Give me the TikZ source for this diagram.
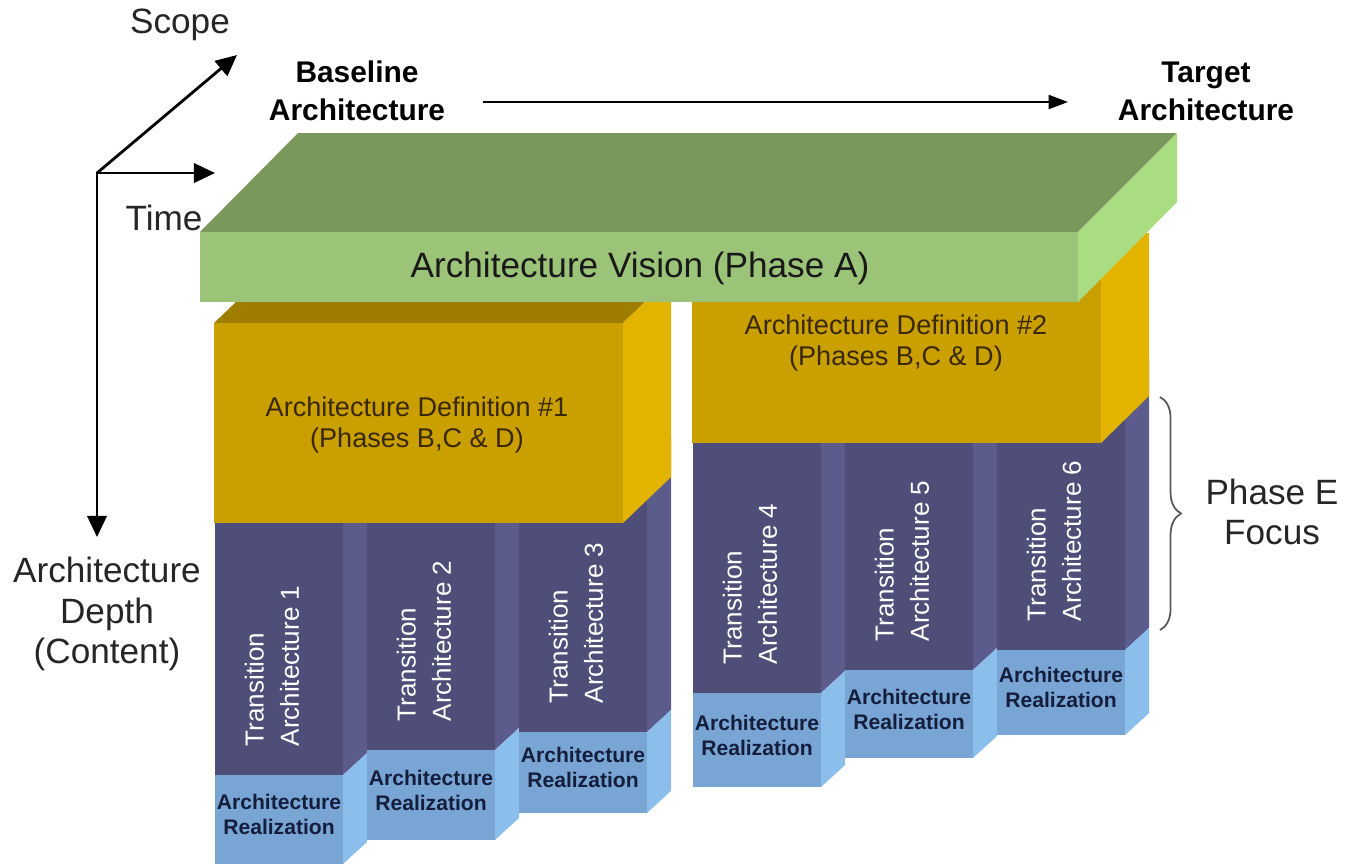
\documentclass[tikz,border=0pt]{standalone}
\usepackage{fontspec}
\setmainfont{Liberation Sans}
\usetikzlibrary{arrows.meta,decorations.pathreplacing}

\definecolor{visionTop}{HTML}{7A985C}
\definecolor{visionFront}{HTML}{9BC478}
\definecolor{visionSide}{HTML}{AADC82}
\definecolor{defTop}{HTML}{9E7D00}
\definecolor{defFront}{HTML}{C9A000}
\definecolor{defSide}{HTML}{E2B400}
\definecolor{transFront}{HTML}{4E4E78}
\definecolor{transSide}{HTML}{5C5C8C}
\definecolor{realFront}{HTML}{78A5D4}
\definecolor{realSide}{HTML}{8CBEEB}
\definecolor{realText}{HTML}{141E3C}
\definecolor{defText}{HTML}{3A2800}

\begin{document}
\begin{tikzpicture}[x=0.01cm,y=-0.01cm,
  >={Triangle[length=6pt,width=5.5pt]},
  axis/.style={line width=0.8pt},
  timeline/.style={line width=0.5pt,-{Triangle[length=5.5pt,width=4pt]}},
  axislabel/.style={font=\fontsize{10}{11.6}\selectfont,align=center,text=black!85},
  toplabel/.style={font=\fontsize{8.5}{10.8}\selectfont\bfseries,align=center},
  visionlabel/.style={font=\fontsize{10}{12}\selectfont,text=black!90},
  deflabel/.style={font=\fontsize{7.7}{8.6}\selectfont,align=center,text=defText},
  translabel/.style={font=\fontsize{7.4}{10}\selectfont,align=left,text=white,
    rotate=90,anchor=west,inner sep=0pt},
  reallabel/.style={font=\fontsize{6}{7.1}\selectfont\bfseries,align=center,text=realText},
  focusbrace/.style={decorate,decoration={brace,amplitude=6pt},gray!70!black,line width=0.5pt}]
\useasboundingbox (0,0) rectangle (1357,866);

% Axes
\coordinate (origin) at (97,173);
\coordinate (scopeTip) at (237,55);
\coordinate (timeTip) at (215,173);
\coordinate (depthTip) at (97,537);
\draw[axis,->] (origin) -- (scopeTip);
\draw[axis,<->] (timeTip) -- (origin) -- (depthTip);
\node[axislabel] (scope) at (180,25) {Scope};
\node[axislabel] (time) at (164,218) {Time};
\node[axislabel] (depth) at (107,614) {Architecture\\Depth\\(Content)};

% Baseline to target
\node[toplabel] (baseline) at (357,91) {Baseline\\Architecture};
\node[toplabel] (target) at (1206,91) {Target\\Architecture};
\coordinate (timeStart) at (483,102);
\coordinate (timeEnd) at (1068,102);
\draw[timeline] (timeStart) -- (timeEnd);

% Transition architectures with realizations below
\foreach \x/\pb/\bb/\n in {215/775/864/1,367/750/840/2,519/732/813/3,
                           693/693/787/4,845/670/758/5,997/650/735/6}{
  \pgfmathsetmacro{\ctop}{\n<4 ? 460 : 380}
  \fill[transFront] (\x,\ctop) rectangle ({\x+128},\pb);
  \fill[transSide] ({\x+128},\ctop) -- ({\x+152},{\ctop-22}) -- ({\x+152},{\pb-22}) -- ({\x+128},\pb) -- cycle;
  \fill[realFront] (\x,\pb) rectangle ({\x+128},\bb);
  \fill[realSide] ({\x+128},\pb) -- ({\x+152},{\pb-22}) -- ({\x+152},{\bb-22}) -- ({\x+128},\bb) -- cycle;
  \node[translabel] (trans\n) at ({\x+57},{\pb-28}) {Transition\\Architecture \n};
  \node[reallabel] (real\n) at ({\x+64},{(\pb+\bb)/2-5}) {Architecture\\Realization};
}

% Architecture definition blocks
\fill[defTop] (214,323) -- (623,323) -- (671,277) -- (262,277) -- cycle;
\fill[defSide] (623,323) -- (671,277) -- (671,477) -- (623,523) -- cycle;
\fill[defFront] (214,323) rectangle (623,523);
\fill[defSide] (1101,233) -- (1149,233) -- (1149,396) -- (1101,443) -- cycle;
\fill[defFront] (692,270) rectangle (1101,443);
\node[deflabel] (def1) at (417,425) {Architecture Definition \#1\\(Phases B,C \& D)};
\node[deflabel] (def2) at (896,343) {Architecture Definition \#2\\(Phases B,C \& D)};

% Architecture vision slab
\fill[visionTop] (200,232) -- (298,133) -- (1177,133) -- (1078,232) -- cycle;
\fill[visionSide] (1078,232) -- (1177,133) -- (1177,202) -- (1078,302) -- cycle;
\fill[visionFront] (200,232) rectangle (1078,302);
\node[visionlabel] (vision) at (640,268) {Architecture Vision (Phase A)};

% Phase E focus
\coordinate (braceTop) at (1160,397);
\coordinate (braceBot) at (1160,630);
\draw[focusbrace] (braceTop) -- (braceBot);
\node[axislabel] (focus) at (1272,512) {Phase E\\Focus};
\end{tikzpicture}
\end{document}
